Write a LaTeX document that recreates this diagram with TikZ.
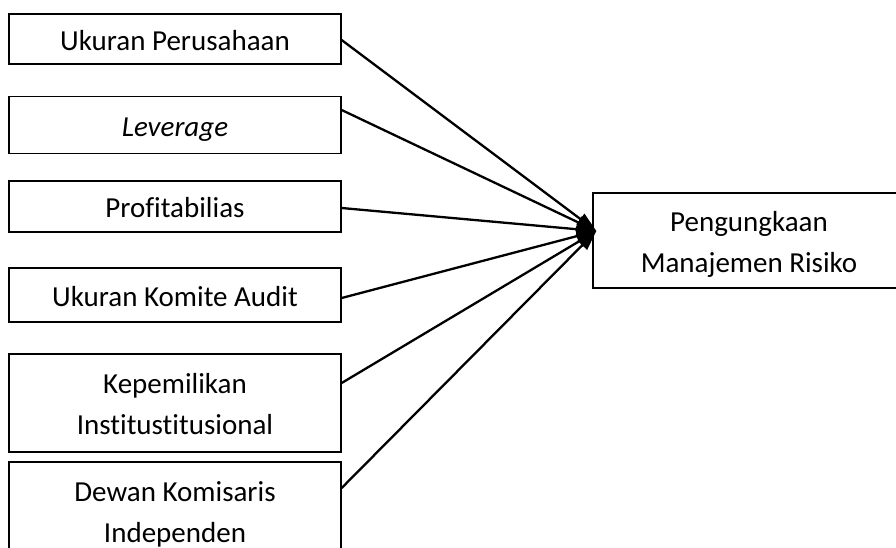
\documentclass[tikz,border=0pt]{standalone}
\usepackage{fontspec}
\setmainfont{Carlito}[Ligatures=NoCommon]
\usetikzlibrary{arrows.meta}
\begin{document}
\begin{tikzpicture}[x=1pt,y=-1pt,
  box/.style={draw=black,line width=1.3pt,minimum width=332pt,inner sep=0pt,
    align=center,text height=22pt,text depth=0pt,
    font=\fontsize{29}{41}\selectfont},
  twoline/.style={text height=63pt},
  conn/.style={line width=2.3pt,-{Triangle[length=20pt,width=13pt]}}]
\useasboundingbox (0,0) rectangle (896,547);
\begin{scope}
\clip (0,0) rectangle (896,547);
\node[box,minimum height=50pt] (b1) at (175,39) {Ukuran Perusahaan};
\node[box,minimum height=57pt] (b2) at (175,125) {\itshape Leverage};
\node[box,minimum height=51pt] (b3) at (175,206.5) {Profitabilias};
\node[box,minimum height=54pt] (b4) at (175,295) {Ukuran Komite Audit};
\node[box,twoline,minimum height=98pt] (b5) at (175,403) {Kepemilikan\\Institustitusional};
\node[box,twoline,minimum height=98pt] (b6) at (175,511) {Dewan Komisaris\\Independen};
\node[box,twoline,minimum width=312pt,minimum height=95pt] (r) at (749,240.5) {Pengungkaan\\Manajemen Risiko};
\coordinate (tip) at ([xshift=4pt,yshift=9.5pt]r.west);
\draw[conn] ([yshift=-1pt]b1.east) -- (tip);
\draw[conn] ([yshift=15pt]b2.east) -- (tip);
\draw[conn] ([yshift=-1.5pt]b3.east) -- (tip);
\draw[conn] ([yshift=-3pt]b4.east) -- (tip);
\draw[conn] ([yshift=20pt]b5.east) -- (tip);
\draw[conn] ([yshift=23pt]b6.east) -- (tip);
\end{scope}
\end{tikzpicture}
\end{document}
